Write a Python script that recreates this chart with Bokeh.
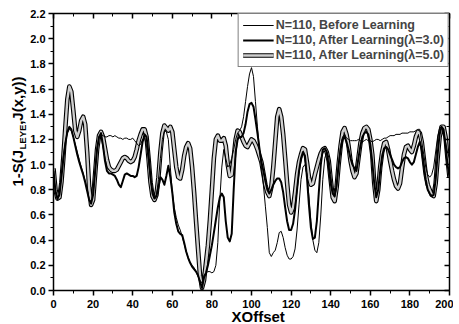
from bokeh.plotting import figure
from bokeh.models import (LinearAxis, SingleIntervalTicker, NumeralTickFormatter, Legend,
                          LegendItem, Title, Range1d, ColumnDataSource)
from bokeh.embed import file_html
from bokeh.resources import INLINE

x_offset = list(range(0, 201))

before_learning = [
    0.93, 0.78, 0.72, 0.76, 0.92, 1.07, 1.18, 1.25, 1.28, 1.27, 1.22, 1.16, 1.10, 1.04, 0.98, 0.93, 0.87, 0.80, 0.73, 0.70, 0.77, 0.95, 1.13, 1.22, 1.24,
    1.23, 1.22, 1.22, 1.23, 1.23, 1.22, 1.23, 1.22, 1.21, 1.21, 1.20, 1.21, 1.21, 1.20, 1.20, 1.21, 1.19, 1.17, 1.15, 1.16, 1.20, 1.21, 1.15, 1.02, 0.88, 0.78, 0.74,
    0.76, 0.88, 1.05, 1.20, 1.27, 1.26, 1.20, 0.98, 0.78, 0.66, 0.58, 0.52, 0.48, 0.43, 0.37, 0.31, 0.26, 0.22, 0.20, 0.18, 0.15, 0.11, 0.08, 0.06,
    0.12, 0.14, 0.15, 0.15, 0.14, 0.15, 0.20, 0.38, 0.72, 0.98, 1.12, 1.05, 0.98, 1.00, 1.05, 1.12, 1.20, 1.25, 1.27, 1.30, 1.38, 1.50, 1.62, 1.72, 1.77,
    1.70, 1.50, 1.30, 1.12, 0.98, 0.84, 0.67, 0.50, 0.30, 0.27, 0.30, 0.32, 0.38, 0.46, 0.47, 0.42, 0.34, 0.28, 0.25, 0.25, 0.27, 0.33, 0.48, 0.68, 0.88, 0.98,
    1.00, 0.92, 0.75, 0.55, 0.40, 0.32, 0.30, 0.38, 0.60, 0.88, 1.05, 1.10, 1.06, 0.92, 0.78, 0.74, 0.82, 1.00, 1.15, 1.22, 1.24, 1.21, 1.20, 1.19, 1.19, 1.19,
    1.19, 1.20, 1.19, 1.18, 1.19, 1.20, 1.19, 1.19, 1.18, 1.19, 1.20, 1.20, 1.19, 1.20, 1.21, 1.21, 1.22, 1.23, 1.23, 1.23, 1.24, 1.24, 1.24, 1.25,
    1.25, 1.25, 1.25, 1.26, 1.26, 1.26, 1.27, 1.28, 1.28, 1.18, 1.08, 0.98, 0.92, 0.90, 0.92, 0.98, 1.10, 1.22, 1.29, 1.30, 1.26, 1.18, 1.10, 1.05,
]

after_lambda3 = [
    0.95, 0.79, 0.73, 0.76, 0.90, 1.05, 1.17, 1.26, 1.30, 1.28, 1.22, 1.15, 1.08, 1.02, 0.97, 0.92, 0.86, 0.79, 0.72, 0.69, 0.76, 0.94, 1.12, 1.22, 1.25,
    1.15, 1.03, 0.95, 0.93, 0.93, 0.92, 0.91, 0.88, 0.84, 0.82, 0.87, 0.92, 0.93, 0.92, 0.91, 0.91, 0.90, 0.91, 0.98, 1.08, 1.18, 1.24, 1.22, 1.08, 0.90, 0.77, 0.73,
    0.75, 0.82, 0.90, 0.88, 0.84, 0.91, 0.99, 0.90, 0.78, 0.62, 0.53, 0.47, 0.45, 0.44, 0.38, 0.31, 0.26, 0.22, 0.19, 0.17, 0.15, 0.12, 0.07, 0.02,
    0.10, 0.14, 0.20, 0.28, 0.36, 0.46, 0.56, 0.66, 0.74, 0.77, 0.74, 0.55, 0.42, 0.39, 0.45, 0.80, 1.10, 1.20, 1.22, 1.22, 1.25, 1.32, 1.42, 1.48, 1.49,
    1.46, 1.36, 1.25, 1.13, 1.02, 0.95, 0.87, 0.80, 0.77, 0.80, 0.84, 0.87, 0.89, 0.89, 0.86, 0.78, 0.66, 0.55, 0.48, 0.48, 0.53, 0.64, 0.80, 0.95, 1.05, 1.10,
    1.07, 0.90, 0.68, 0.50, 0.41, 0.42, 0.55, 0.78, 1.00, 1.12, 1.13, 1.10, 0.98, 0.85, 0.77, 0.75, 0.84, 1.00, 1.12, 1.20, 1.22, 1.18, 1.12, 1.05, 1.00, 0.97,
    0.95, 1.05, 1.15, 1.22, 1.25, 1.26, 1.24, 1.16, 1.02, 0.85, 0.74, 0.80, 0.95, 1.07, 1.13, 1.14, 1.12, 1.08, 1.04, 1.00, 0.98, 0.97, 0.98, 1.02,
    1.05, 1.06, 1.05, 1.02, 1.00, 1.02, 1.08, 1.14, 1.18, 1.12, 1.00, 0.88, 0.80, 0.77, 0.75, 0.76, 0.88, 1.08, 1.24, 1.30, 1.28, 1.15, 1.00, 0.90,
]

after_lambda5 = [
    0.97, 0.80, 0.73, 0.74, 0.86, 1.06, 1.30, 1.52, 1.62, 1.58, 1.43, 1.27, 1.22, 1.27, 1.35, 1.38, 1.32, 1.10, 0.82, 0.68, 0.72, 0.92, 1.12, 1.23, 1.26,
    1.22, 1.13, 1.04, 0.98, 0.96, 0.95, 0.95, 0.96, 0.99, 1.02, 1.05, 1.06, 1.05, 1.03, 1.02, 1.03, 1.06, 1.12, 1.19, 1.24, 1.28, 1.28, 1.22, 1.05, 0.86, 0.75, 0.72,
    0.76, 0.90, 1.10, 1.25, 1.31, 1.29, 1.27, 1.30, 1.26, 1.12, 0.98, 0.90, 0.89, 0.96, 1.07, 1.14, 1.17, 1.13, 0.98, 0.78, 0.55, 0.33, 0.12, 0.02,
    0.08, 0.22, 0.36, 0.56, 0.80, 1.05, 1.20, 1.23, 1.19, 1.19, 1.21, 1.15, 1.00, 0.91, 0.92, 1.05, 1.20, 1.27, 1.26, 1.22, 1.18, 1.15, 1.14, 1.17, 1.20,
    1.19, 1.16, 1.12, 1.07, 1.02, 0.93, 0.84, 0.78, 0.75, 0.82, 0.98, 1.18, 1.38, 1.44, 1.38, 1.24, 1.05, 0.85, 0.68, 0.62, 0.66, 0.78, 0.92, 1.02, 1.08, 1.13,
    1.12, 1.02, 0.90, 0.84, 0.85, 0.92, 0.98, 1.04, 1.09, 1.12, 1.13, 1.10, 1.03, 0.88, 0.74, 0.71, 0.82, 1.00, 1.15, 1.26, 1.29, 1.24, 1.15, 1.03, 0.95, 0.90,
    0.93, 1.05, 1.17, 1.25, 1.29, 1.30, 1.28, 1.20, 1.08, 0.85, 0.71, 0.80, 0.98, 1.10, 1.17, 1.18, 1.12, 1.03, 0.95, 0.88, 0.83, 0.81, 0.85, 0.97,
    1.08, 1.14, 1.15, 1.12, 1.10, 1.15, 1.22, 1.26, 1.25, 1.18, 1.05, 0.92, 0.84, 0.80, 0.76, 0.75, 0.85, 1.05, 1.22, 1.30, 1.30, 1.22, 1.05, 0.90,
]

labels = ["N=110, Before Learning", "N=110, After Learning(\u03bb=3.0)", "N=110, After Learning(\u03bb=5.0)"]
NB = "\u00a0" * 6
y_title_main = "1-S(J" + NB + ",J(x,y))"
y_title_sub = "LEYE"
x_title = "XOffset"

FONT = "Liberation Sans"

src = ColumnDataSource(dict(x=x_offset, t=before_learning, m=after_lambda3, g=after_lambda5))

p = figure(frame_width=396, frame_height=277, x_range=Range1d(0, 200), y_range=Range1d(0, 2.2),
           output_backend="svg", toolbar_location=None,
           min_border_left=53, min_border_right=4, min_border_top=13, min_border_bottom=34)
p.grid.visible = False
p.outline_line_color = None
p.background_fill_color = "white"
p.border_fill_color = "white"

xt = SingleIntervalTicker(interval=20, num_minor_ticks=2)
yt = SingleIntervalTicker(interval=0.2, num_minor_ticks=2)
p.xaxis.ticker = xt
p.yaxis.ticker = yt
p.yaxis.formatter = NumeralTickFormatter(format="0.0")

for ax in (p.xaxis[0], p.yaxis[0]):
    ax.axis_line_width = 1.5
    ax.major_tick_line_width = 1.5
    ax.minor_tick_line_width = 1
    ax.major_tick_out = 5
    ax.major_tick_in = 0
    ax.minor_tick_out = 3
    ax.minor_tick_in = 0
    ax.major_label_text_font = FONT
    ax.major_label_text_font_style = "bold"
    ax.major_label_text_font_size = "11px"
    ax.major_label_text_color = "black"
p.xaxis.major_label_standoff = 4
p.yaxis.major_label_standoff = 3

top = LinearAxis(ticker=xt)
right = LinearAxis(ticker=yt)
for ax in (top, right):
    ax.axis_line_width = 1.5
    ax.major_tick_line_width = 1.5
    ax.minor_tick_line_width = 1
    ax.major_tick_out = 0
    ax.major_tick_in = 5
    ax.minor_tick_out = 0
    ax.minor_tick_in = 3
    ax.major_label_text_font_size = "1px"
    ax.major_label_text_color = None
    ax.major_label_standoff = 0
p.add_layout(top, "above")
p.add_layout(right, "right")

rg_b = p.line("x", "g", source=src, line_color="black", line_width=4.6, line_join="round")
rg_g = p.line("x", "g", source=src, line_color="#cfcfcf", line_width=2.4, line_join="round")
rm = p.line("x", "m", source=src, line_color="black", line_width=2, line_join="round")
rt = p.line("x", "t", source=src, line_color="black", line_width=1, line_join="round")

legend = Legend(items=[LegendItem(label=labels[0], renderers=[rt]),
                       LegendItem(label=labels[1], renderers=[rm]),
                       LegendItem(label=labels[2], renderers=[rg_b, rg_g])],
                location="top_right", margin=0, padding=4, spacing=1, label_standoff=2,
                glyph_width=31, glyph_height=14, label_height=14,
                label_text_font=FONT, label_text_font_style="bold", label_text_font_size="12.5px",
                border_line_color="black", border_line_width=1, background_fill_alpha=1)
p.add_layout(legend)

# y-axis title: subscript slot next to the axis, main text slot outside it
p.add_layout(Title(text=y_title_sub, align="left", vertical_align="top", offset=141, standoff=-4,
                   text_font=FONT, text_font_style="bold", text_font_size="9.5px",
                   text_color="black"), "left")
p.add_layout(Title(text=y_title_main, align="left", vertical_align="bottom", offset=104, standoff=-15,
                   text_font=FONT, text_font_style="bold", text_font_size="15px",
                   text_color="black"), "left")
# x-axis title
p.add_layout(Title(text=x_title, align="left", vertical_align="top", offset=178, standoff=-6,
                   text_font=FONT, text_font_style="bold", text_font_size="15px",
                   text_color="black"), "below")

open("out.html", "w").write(file_html(p, INLINE))
